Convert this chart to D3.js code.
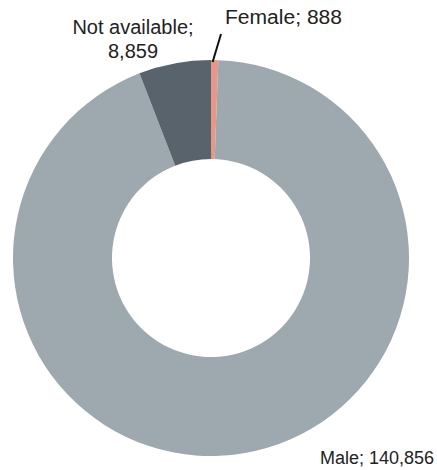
<!DOCTYPE html>
<html><head><meta charset="utf-8">
<script src="https://cdn.jsdelivr.net/npm/d3@7"></script>
<style>
html,body{margin:0;padding:0;background:#fff;}
svg{display:block;}
text{font-family:"Liberation Sans",Arial,sans-serif;fill:#222;}
</style></head>
<body>
<svg id="c" width="437" height="470"></svg>
<script>
const categories = ["Female", "Male", "Not available"];
const values = [888, 140856, 8859];
const labels = ["Female; 888", "Male; 140,856", "Not available;|8,859"];
const colors = ["#E8968A", "#9EA8AF", "#59636B"];

const W = 437, H = 470;
const cx = 211, cy = 258, R = 198, r0 = 99;
const svg = d3.select("#c");
const g = svg.append("g").attr("transform", `translate(${cx},${cy})`);

const pie = d3.pie().sort(null).value(d => d.v);
const data = pie(categories.map((c, i) => ({c, v: values[i], i})));
const arc = d3.arc().innerRadius(r0).outerRadius(R);
const color = d3.scaleOrdinal().domain(categories).range(colors);

g.selectAll("path.s").data(data).enter().append("path")
  .attr("class", "s")
  .attr("d", arc)
  .attr("fill", d => color(d.data.c));

// label layout (offsets from center)
const labelPos = {
  "Female": {x: 14, y: -234, anchor: "start", len: 117, fs: 20},
  "Male": {x: 109, y: 206, anchor: "start", len: null, fs: 18},
  "Not available": {x: -78, y: -224, anchor: "middle", len: null, fs: 20}
};
data.forEach(d => {
  const p = labelPos[d.data.c];
  const lines = labels[d.data.i].split("|");
  const t = g.append("text").attr("x", p.x).attr("y", p.y)
    .attr("text-anchor", p.anchor).attr("font-size", p.fs);
  lines.forEach((ln, k) => {
    const ts = t.append("tspan").attr("x", p.x).attr("dy", k === 0 ? 0 : 24).text(ln);
    if (p.len) ts.attr("textLength", p.len).attr("lengthAdjust", "spacingAndGlyphs");
  });
});

// leader for Female
const fem = data[0];
const mid = (fem.startAngle + fem.endAngle) / 2;
const pIn = [Math.sin(mid) * (R - 2) - 1, -Math.cos(mid) * (R - 2) - 2];
g.append("line")
  .attr("x1", pIn[0] - 1).attr("y1", pIn[1] + 2)
  .attr("x2", 10).attr("y2", -224)
  .attr("stroke", "#111").attr("stroke-width", 2);
</script>
</body></html>
